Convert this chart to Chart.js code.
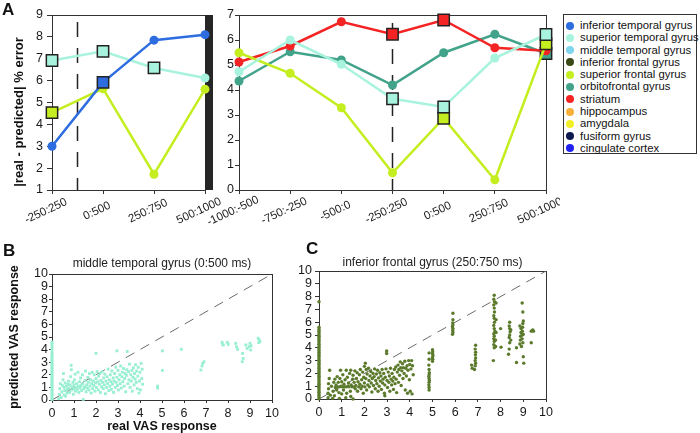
<!DOCTYPE html>
<html>
<head>
<meta charset="utf-8">
<script src="https://cdn.jsdelivr.net/npm/chart.js@4.4.1/dist/chart.umd.min.js"></script>
<style>
  body { margin: 0; background: #fff; font-family: 'Liberation Sans', Arial, sans-serif; }
  #wrap { position: relative; width: 700px; height: 433px; overflow: hidden; }
  canvas { position: absolute; }
  .panel { position: absolute; font-weight: bold; font-size: 17px; color: #111; line-height: 17px; }
  #legend { position: absolute; left: 563px; top: 14px; width: 134px; height: 140px; border: 1px solid #333;
            box-sizing: border-box; padding: 4px 0 0 1px; font-size: 11.3px; color: #111; }
  #legend div { height: 12.3px; line-height: 12.3px; white-space: nowrap; }
  #legend span { display: inline-block; width: 8px; height: 8px; border-radius: 50%; margin: 0 6px 0 1px; vertical-align: -0.5px; }
</style>
</head>
<body>
<div id="wrap">
  <canvas id="errLeft" width="232" height="240" style="left:0;top:0"></canvas>
  <canvas id="errRight" width="380" height="240" style="left:180px;top:0"></canvas>
  <canvas id="scatterB" width="290" height="183" style="left:0;top:250px"></canvas>
  <canvas id="scatterC" width="270" height="183" style="left:290px;top:250px"></canvas>
  <div class="panel" style="left:2px;top:1px">A</div>
  <div class="panel" style="left:3px;top:242px">B</div>
  <div class="panel" style="left:306px;top:240px">C</div>
  <div id="legend"></div>
</div>
<script>
// ---- panel A, left: windows relative to stimulus onset ----
const windowsLeft = ['-250:250', '0:500', '250:750', '500:1000'];
const itgLeft = [3.0, 5.92, 7.85, 8.1];
const stgLeft = [6.92, 7.34, 6.58, 6.12];
const sfgLeft = [4.54, 5.63, 1.72, 5.61];
// 1 = significant window (square marker)
const itgLeftSig = [0, 1, 0, 0];
const stgLeftSig = [1, 1, 1, 0];
const sfgLeftSig = [1, 0, 0, 0];

// ---- panel A, right ----
const windowsRight = ['-1000:-500', '-750:-250', '-500:0', '-250:250', '0:500', '250:750', '500:1000'];
const stgRight = [4.73, 6.0, 5.03, 3.65, 3.32, 5.28, 6.22];
const sfgRight = [5.49, 4.67, 3.29, 0.69, 2.87, 0.41, 5.85];
const striatum = [5.12, 5.76, 6.73, 6.23, 6.8, 5.69, 5.57];
const ofgRight = [4.36, 5.53, 5.2, 4.2, 5.49, 6.23, 5.46];
const stgRightSig = [0, 0, 0, 1, 1, 0, 1];
const sfgRightSig = [0, 0, 0, 0, 1, 0, 1];
const striatumSig = [0, 0, 0, 1, 1, 0, 0];
const ofgRightSig = [0, 0, 0, 0, 0, 0, 1];

const vasTicks = [0, 1, 2, 3, 4, 5, 6, 7, 8, 9, 10];
const diagonal = [[0, 0], [10, 10]];

// ---- panel B: middle temporal gyrus (0:500 ms), real vs predicted ----
const zeroB = [0.04, 0.17, 0.3, 0.41, 0.55, 0.67, 0.8, 0.92, 1.06, 1.17, 1.31, 1.42, 1.56, 1.66, 1.8, 1.93,
  2.04, 2.18, 2.3, 2.43, 2.55, 2.67, 2.81, 2.92, 3.06, 3.17, 3.31, 3.43, 3.55, 3.68, 3.9, 4.07, 4.28, 4.45, 4.6];
const mtgPoints = [
  [0.3,0.1],[0.33,0.45],[0.35,0.9],[0.38,1.3],[0.42,0.2],[0.45,0.65],[0.47,1.15],[0.5,1.6],[0.52,2.1],[0.55,0.4],
  [0.55,1.0],[0.58,0.75],[0.6,1.35],[0.62,0.3],[0.65,1.1],[0.68,0.55],[0.7,0.85],[0.72,1.25],[0.75,1.5],[0.77,0.95],
  [0.8,0.6],[0.82,1.2],[0.85,1.85],[0.87,2.75],[0.88,2.4],[0.9,0.8],[0.92,1.05],[0.95,1.4],[0.97,0.45],[1.0,1.2],
  [1.0,0.9],[1.02,1.6],[1.05,2.05],[1.07,0.7],[1.1,1.0],[1.12,1.3],[1.15,0.85],[1.18,2.2],[1.2,1.1],[1.22,0.6],
  [1.25,1.45],[1.28,0.95],[1.3,1.75],[1.32,1.15],[1.35,0.75],[1.38,2.0],[1.4,1.3],[1.42,0.05],[1.45,0.9],[1.48,1.05],
  [1.5,1.55],[1.52,2.3],[1.55,0.65],[1.58,1.2],[1.6,0.95],[1.63,1.8],[1.65,1.4],[1.68,0.8],[1.7,2.1],[1.72,1.1],
  [1.75,1.6],[1.78,0.55],[1.8,1.3],[1.83,2.2],[1.85,0.9],[1.88,1.5],[1.9,1.15],[1.92,2.0],[1.95,0.7],[1.98,1.35],
  [2.0,3.7],[2.0,1.7],[2.02,1.0],[2.05,2.25],[2.08,1.45],[2.1,0.8],[2.12,1.9],[2.15,1.25],[2.18,2.1],[2.2,0.6],
  [2.22,1.55],[2.25,1.05],[2.28,2.25],[2.3,1.4],[2.33,0.9],[2.35,1.75],[2.38,1.2],[2.4,2.05],[2.43,0.5],[2.45,1.5],
  [2.48,1.0],[2.5,1.85],[2.53,1.3],[2.55,2.45],[2.58,0.75],[2.6,1.6],[2.63,1.1],[2.65,2.0],[2.68,1.45],[2.7,0.85],
  [2.72,2.3],[2.75,1.25],[2.78,1.75],[2.8,0.6],[2.82,1.5],[2.85,2.1],[2.88,1.0],[2.9,2.6],[2.92,1.4],[2.95,3.9],
  [2.95,1.8],[2.98,1.15],[3.0,2.35],[3.02,0.8],[3.05,1.6],[3.08,2.0],[3.1,1.3],[3.12,2.7],[3.15,0.95],[3.18,1.85],
  [3.2,2.2],[3.22,1.45],[3.25,2.5],[3.28,1.1],[3.3,1.7],[3.33,2.1],[3.35,0.65],[3.38,1.95],[3.4,2.4],[3.42,3.85],
  [3.45,1.3],[3.48,2.25],[3.5,1.6],[3.52,2.85],[3.55,1.0],[3.58,2.0],[3.6,1.5],[3.63,2.35],[3.65,0.7],[3.68,1.8],
  [3.7,2.55],[3.73,1.2],[3.75,2.1],[3.78,1.65],[3.8,2.8],[3.83,1.4],[3.85,2.3],[3.88,0.9],[3.9,1.9],[3.92,2.6],
  [3.95,0.55],[3.98,1.5],[4.0,2.2],[4.02,0.8],[4.05,2.9],[4.08,1.7],[4.1,2.45],[4.12,1.25],
  [4.8,1.1],[4.8,0.95],[5.02,2.35],[5.02,3.9],[5.88,4.02],[6.77,2.38],[6.82,2.7],[6.85,2.9],[6.91,3.04],
  [7.73,4.58],[7.76,4.4],[7.79,4.37],[7.97,4.58],[8.01,4.42],[8.35,4.5],[8.39,4.23],[8.44,4.02],[8.66,3.7],
  [8.69,3.3],[8.65,3.04],[8.81,4.37],[8.87,4.1],[8.96,4.23],[9.0,4.5],[9.03,3.97],[9.05,4.3],[9.37,4.9],
  [9.42,4.76],[9.45,4.63],[9.4,4.55]
];

// ---- panel C: inferior frontal gyrus (250:750 ms) ----
const zeroC = [0.02, 0.15, 0.28, 0.4, 0.53, 0.65, 0.78, 0.9, 1.03, 1.15, 1.27, 1.4, 1.52, 1.66, 1.78, 1.9,
  2.03, 2.15, 2.27, 2.4, 2.52, 2.66, 2.78, 2.9, 3.02, 3.15, 3.28, 3.4, 3.52, 3.65, 3.78, 3.9, 4.03, 4.15,
  4.27, 4.4, 4.53, 4.65, 4.78, 4.9, 5.02, 5.16, 5.3, 5.45, 5.6, 7.6];
const ifgPoints = [
  [0.4,0.1],[0.4,0.45],[0.42,0.8],[0.42,1.2],[0.45,1.6],[0.47,2.25],[0.5,0.3],[0.55,1.0],[0.6,0.05],[0.62,0.6],
  [0.65,1.3],[0.68,0.25],[0.7,1.55],[0.72,0.9],[0.75,1.1],[0.78,0.7],[0.8,1.75],[0.82,0.95],[0.85,1.3],[0.88,0.5],
  [0.9,0.05],[0.9,0.95],[0.92,1.6],[0.95,2.25],[0.97,1.0],[1.0,0.4],[1.0,1.35],[1.02,0.95],[1.05,1.9],[1.08,0.7],
  [1.1,1.15],[1.12,0.95],[1.15,1.5],[1.18,0.1],[1.2,0.95],[1.2,2.25],[1.22,0.45],[1.25,1.7],[1.28,1.0],[1.3,1.25],
  [1.32,0.95],[1.35,2.0],[1.38,0.6],[1.4,0.2],[1.4,2.25],[1.42,1.1],[1.45,0.95],[1.48,1.55],[1.5,0.0],[1.5,1.85],
  [1.52,0.95],[1.55,1.3],[1.58,2.2],[1.6,0.8],[1.62,1.05],[1.65,1.6],[1.68,2.05],[1.7,0.6],[1.72,1.35],[1.75,0.95],
  [1.78,1.9],[1.8,1.15],[1.82,2.3],[1.85,0.8],[1.88,1.5],[1.9,1.0],[1.92,2.1],[1.95,0.45],[1.97,1.7],[2.0,2.55],
  [2.0,1.25],[2.02,0.95],[2.04,2.8],[2.06,1.6],[2.08,2.3],[2.1,0.7],[2.12,1.95],[2.15,1.1],[2.18,2.4],[2.2,1.45],
  [2.22,0.95],[2.25,1.8],[2.28,2.15],[2.3,1.25],[2.33,0.55],[2.35,1.6],[2.38,2.0],[2.4,1.05],[2.43,1.75],[2.45,2.35],
  [2.48,0.8],[2.5,1.45],[2.53,1.95],[2.55,1.2],[2.58,2.25],[2.6,0.6],[2.62,1.65],[2.65,1.0],[2.68,2.05],[2.7,1.4],
  [2.73,1.8],[2.75,0.75],[2.78,2.3],[2.8,1.25],[2.82,1.55],[2.85,2.0],[2.88,0.45],[2.9,0.25],[2.9,1.1],[2.92,1.7],
  [2.95,2.35],[2.98,3.75],[2.98,3.55],[3.0,1.45],[3.02,0.9],[3.05,2.1],[3.08,1.3],[3.1,1.8],[3.12,0.6],[3.15,2.4],
  [3.18,1.55],[3.2,1.1],[3.22,2.0],[3.25,1.4],[3.28,0.75],[3.3,1.7],[3.32,2.3],[3.35,1.2],[3.38,2.5],[3.4,1.55],
  [3.42,0.5],[3.45,2.1],[3.48,2.65],[3.5,1.3],[3.52,2.3],[3.55,1.85],[3.58,2.9],[3.6,2.45],[3.62,1.05],[3.65,2.2],
  [3.68,2.75],[3.7,1.6],[3.72,2.45],[3.75,2.0],[3.78,2.95],[3.8,0.7],[3.82,2.4],[3.85,1.8],[3.88,2.6],[3.9,0.45],
  [3.92,2.25],[3.95,3.0],[3.98,1.5],[4.0,2.7],[4.02,0.6],[4.05,2.35],[4.08,3.0],[4.1,0.4],[4.12,2.6],[4.15,1.9],
  [4.85,0.7],[4.85,0.9],[4.84,1.1],[4.85,1.3],[4.86,1.45],[4.85,1.6],[4.84,1.75],[4.85,1.9],[4.86,2.05],[4.85,2.3],
  [4.84,2.65],[4.85,3.1],[4.85,3.6],[5.0,2.95],[5.01,3.1],[5.0,3.25],[5.02,3.4],[5.0,3.55],[5.01,3.7],[5.0,3.85],
  [5.88,5.05],[5.9,5.2],[5.89,5.35],[5.9,5.5],[5.88,5.65],[5.9,5.8],[5.89,5.95],[5.9,6.2],[5.9,6.7],
  [6.72,2.65],[6.75,2.4],[6.85,2.3],[6.88,2.6],[6.9,2.8],[6.88,3.0],[6.9,3.2],[6.89,3.45],[6.9,3.65],[6.88,3.9],[6.9,4.2],
  [7.68,3.0],[7.72,4.0],[7.7,4.25],[7.72,4.5],[7.7,4.7],[7.72,4.9],[7.7,5.1],[7.75,5.3],[7.72,5.5],[7.7,5.75],
  [7.73,6.0],[7.72,6.3],[7.7,6.5],[7.73,6.8],[7.72,7.1],[7.7,7.35],[7.73,7.6],[7.7,7.8],[7.72,8.1],[7.78,4.1],
  [7.78,4.6],[7.8,5.2],[7.8,6.2],[7.8,7.5],[8.0,5.5],[8.02,4.05],
  [8.35,3.5],[8.38,3.9],[8.4,4.4],[8.38,4.8],[8.4,5.0],[8.42,5.25],[8.4,5.5],[8.38,5.7],[8.4,6.0],[8.45,4.6],[8.45,5.4],
  [8.7,2.85],[8.7,4.0],[8.85,4.3],[8.87,4.6],[8.88,4.9],[8.9,5.2],[8.9,5.5],[8.92,4.1],[8.95,4.7],[8.95,5.0],
  [8.96,5.3],[8.97,5.6],[8.98,5.9],[9.0,6.1],[8.98,4.4],[9.0,5.05],[8.95,7.5],[8.98,6.8],[9.0,3.3],[9.02,2.8],[8.85,5.7],
  [9.35,5.3],[9.4,5.35],[9.45,5.3],[9.42,5.4],[9.35,4.4]
];

const regions = ['inferior temporal gyrus', 'superior temporal gyrus', 'middle temporal gyrus', 'inferior frontal gyrus',
  'superior frontal gyrus', 'orbitofrontal gyrus', 'striatum', 'hippocampus', 'amygdala', 'fusiform gyrus', 'cingulate cortex'];
const regionColors = ['#2d6de0', '#a8f3dd', '#7fd5ea', '#3a4a16', '#c4ee1f', '#41a38a', '#f42424', '#f8b13a', '#f2ee28', '#0d1a4f', '#1f22ee'];

const FONT = "'Liberation Sans', Arial, sans-serif";
Chart.defaults.font.family = FONT;
Chart.defaults.color = '#1a1a1a';
Chart.defaults.animation = false;
Chart.defaults.events = [];
Chart.defaults.plugins.legend.display = false;
Chart.defaults.plugins.tooltip.enabled = false;

// legend box (html)
const legendBox = document.getElementById('legend');
regions.forEach((name, i) => {
  const row = document.createElement('div');
  const dot = document.createElement('span');
  dot.style.background = regionColors[i];
  row.appendChild(dot);
  row.appendChild(document.createTextNode(name));
  legendBox.appendChild(row);
});

function errorSeries(values, sig, color) {
  return {
    data: values,
    borderColor: color,
    borderWidth: 2.5,
    tension: 0,
    clip: false,
    pointStyle: sig.map(s => s ? 'rect' : 'circle'),
    pointRadius: sig.map(s => s ? 8 : 4.5),
    pointBackgroundColor: color,
    pointBorderColor: sig.map(s => s ? '#222' : color),
    pointBorderWidth: sig.map(s => s ? 1.5 : 0)
  };
}

// fixed axis boxes so the plot areas line up with the figure
const fixX = h => s => { s.height = h; s.paddingLeft = 0; s.paddingRight = 0; };
const fixY = w => s => { s.width = w; s.paddingTop = 0; s.paddingBottom = 0; };

function axis(tickLen, extra) {
  return Object.assign({
    grid: { display: true, drawOnChartArea: false, drawTicks: true, tickLength: tickLen, color: '#333' },
    border: { display: true, color: '#333', width: 1 }
  }, extra);
}

function dashedAt(chart, px, from) {
  const { ctx, chartArea: a } = chart;
  ctx.save();
  ctx.strokeStyle = '#222';
  ctx.lineWidth = 1.5;
  ctx.setLineDash([15, 11]);
  ctx.beginPath();
  ctx.moveTo(px, a.top + from);
  ctx.lineTo(px, a.bottom);
  ctx.stroke();
  ctx.restore();
}

function frameLine(ctx, x1, y1, x2, y2) {
  ctx.beginPath();
  ctx.moveTo(x1, y1);
  ctx.lineTo(x2, y2);
  ctx.stroke();
}

// time-window labels, slanted and centred under their tick
function slantedLabels(chart) {
  const { ctx, chartArea: a, scales: { x } } = chart;
  ctx.save();
  ctx.font = '11.5px ' + FONT;
  ctx.fillStyle = '#1a1a1a';
  ctx.textAlign = 'center';
  ctx.textBaseline = 'middle';
  x.ticks.forEach((t, i) => {
    ctx.save();
    ctx.translate(x.getPixelForTick(i) - 6, a.bottom + 21);
    ctx.rotate(-25 * Math.PI / 180);
    ctx.fillText(x.getLabelForValue(t.value), 0, 0);
    ctx.restore();
  });
  ctx.restore();
}

const leftExtras = {
  id: 'leftExtras',
  beforeDatasetsDraw(chart) {
    const { ctx, chartArea: a, scales: { x } } = chart;
    ctx.save();
    ctx.strokeStyle = '#333';
    ctx.lineWidth = 1;
    frameLine(ctx, a.left, a.top + 0.5, a.right, a.top + 0.5);
    ctx.fillStyle = '#262626';
    ctx.fillRect(a.right, a.top, 8, a.bottom - a.top);
    ctx.restore();
    dashedAt(chart, (x.getPixelForValue(0) + x.getPixelForValue(1)) / 2, 7);
  },
  afterDraw(chart) {
    slantedLabels(chart);
    const ctx = chart.ctx;
    ctx.save();
    ctx.translate(19, 112);
    ctx.rotate(-Math.PI / 2);
    ctx.font = 'bold 13px ' + FONT;
    ctx.fillStyle = '#111';
    ctx.textAlign = 'center';
    ctx.textBaseline = 'middle';
    ctx.fillText('|real - predicted| % error', 0, 0);
    ctx.restore();
  }
};

const rightExtras = {
  id: 'rightExtras',
  beforeDatasetsDraw(chart) {
    const { ctx, chartArea: a, scales: { x } } = chart;
    ctx.save();
    ctx.strokeStyle = '#333';
    ctx.lineWidth = 1;
    frameLine(ctx, a.left, a.top + 0.5, a.right, a.top + 0.5);
    frameLine(ctx, a.right + 0.5, a.top, a.right + 0.5, a.bottom);
    ctx.restore();
    dashedAt(chart, x.getPixelForValue(3), 8);
  },
  afterDraw(chart) {
    slantedLabels(chart);
  }
};

function boxAndTitle(text, dy) {
  return {
    id: 'boxAndTitle',
    beforeDatasetsDraw(chart) {
      const { ctx, chartArea: a } = chart;
      ctx.save();
      ctx.strokeStyle = '#333';
      ctx.lineWidth = 1;
      frameLine(ctx, a.left, a.top + 0.5, a.right + 0.5, a.top + 0.5);
      frameLine(ctx, a.right + 0.5, a.top, a.right + 0.5, a.bottom);
      ctx.font = '12px ' + FONT;
      ctx.fillStyle = '#222';
      ctx.textAlign = 'center';
      ctx.textBaseline = 'middle';
      ctx.fillText(text, (a.left + a.right) / 2, a.top - dy);
      ctx.restore();
    }
  };
}

const windowAxis = () => axis(4, {
  ticks: { display: false, autoSkip: false },
  afterFit: fixX(50)
});

new Chart(document.getElementById('errLeft'), {
  type: 'line',
  data: {
    labels: windowsLeft,
    datasets: [
      errorSeries(itgLeft, itgLeftSig, '#2d6de0'),
      errorSeries(stgLeft, stgLeftSig, '#a8f3dd'),
      errorSeries(sfgLeft, sfgLeftSig, '#c4ee1f')
    ]
  },
  options: {
    responsive: false,
    layout: { padding: { top: 15, right: 27, left: 0, bottom: 0 } },
    scales: {
      x: windowAxis(),
      y: axis(5, {
        min: 1, max: 9,
        ticks: { stepSize: 1, padding: 4, font: { size: 12.5 } },
        afterFit: fixY(52)
      })
    }
  },
  plugins: [leftExtras]
});

new Chart(document.getElementById('errRight'), {
  type: 'line',
  data: {
    labels: windowsRight,
    datasets: [
      errorSeries(stgRight, stgRightSig, '#a8f3dd'),
      errorSeries(sfgRight, sfgRightSig, '#c4ee1f'),
      errorSeries(striatum, striatumSig, '#f42424'),
      errorSeries(ofgRight, ofgRightSig, '#41a38a')
    ]
  },
  options: {
    responsive: false,
    layout: { padding: { top: 15, right: 14, left: 0, bottom: 0 } },
    scales: {
      x: windowAxis(),
      y: axis(4, {
        min: 0, max: 7,
        ticks: { stepSize: 1, padding: 1, font: { size: 12.5 } },
        afterFit: fixY(59)
      })
    }
  },
  plugins: [rightExtras]
});

function scatterSets(zeroCol, pts, color, style, radius) {
  return [
    {
      data: zeroCol.map(y => ({ x: 0, y })).concat(pts.map(p => ({ x: p[0], y: p[1] }))),
      pointStyle: style,
      pointRadius: radius,
      pointBackgroundColor: color,
      pointBorderWidth: 0,
      clip: false
    },
    {
      data: diagonal.map(p => ({ x: p[0], y: p[1] })),
      showLine: true,
      borderColor: '#6a6a6a',
      borderWidth: 1,
      borderDash: [10, 7],
      pointRadius: 0
    }
  ];
}

function vasScale(tickLen, pad, extra) {
  return axis(tickLen, Object.assign({
    type: 'linear', min: 0, max: 10,
    afterBuildTicks: s => { s.ticks = vasTicks.map(v => ({ value: v })); },
    ticks: { autoSkip: false, padding: pad, font: { size: 12.5 } }
  }, extra));
}

new Chart(document.getElementById('scatterB'), {
  type: 'scatter',
  data: { datasets: scatterSets(zeroB, mtgPoints, '#98efd2', 'rect', 2) },
  options: {
    responsive: false,
    layout: { padding: { top: 24, right: 18, left: 0, bottom: 0 } },
    scales: {
      x: vasScale(3, 3, {
        title: { display: true, text: 'real VAS response', font: { size: 12.5, weight: 'bold', lineHeight: 1 }, padding: { top: 0, bottom: 0 }, color: '#111' },
        afterFit: fixX(33)
      }),
      y: vasScale(3, 1, {
        title: { display: true, text: 'predicted VAS response', font: { size: 12.5, weight: 'bold' }, padding: { top: 7, bottom: 0 }, color: '#111' },
        afterFit: fixY(52)
      })
    }
  },
  plugins: [boxAndTitle('middle temporal gyrus (0:500 ms)', 10)]
});

new Chart(document.getElementById('scatterC'), {
  type: 'scatter',
  data: { datasets: scatterSets(zeroC, ifgPoints, '#5b7a2c', 'circle', 1.7) },
  options: {
    responsive: false,
    layout: { padding: { top: 21, right: 14, left: 0, bottom: 0 } },
    scales: {
      x: vasScale(3, 3, { afterFit: fixX(34) }),
      y: vasScale(4, 3, { afterFit: fixY(29) })
    }
  },
  plugins: [boxAndTitle('inferior frontal gyrus (250:750 ms)', 8)]
});
</script>
</body>
</html>
